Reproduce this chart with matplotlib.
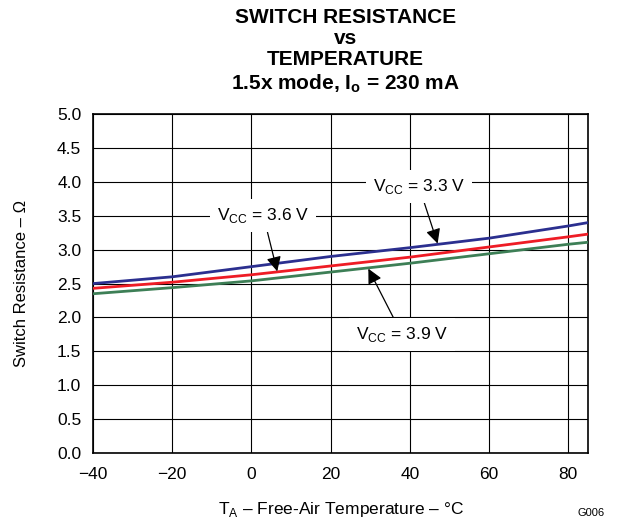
import matplotlib.pyplot as plt

plt.rcParams['font.family'] = ['Liberation Sans', 'DejaVu Sans']
plt.rcParams['mathtext.fontset'] = 'custom'
plt.rcParams['mathtext.rm'] = 'Liberation Sans'
plt.rcParams['mathtext.bf'] = 'Liberation Sans:bold'

# 温度 (°C)
temp = [-40, -20, 0, 20, 40, 60, 80, 85]
# 开关电阻 (Ω)
r_33 = [2.50, 2.60, 2.75, 2.90, 3.03, 3.17, 3.35, 3.40]
r_36 = [2.43, 2.52, 2.63, 2.76, 2.89, 3.04, 3.19, 3.23]
r_39 = [2.35, 2.44, 2.54, 2.67, 2.80, 2.94, 3.08, 3.11]

fig = plt.figure(figsize=(6.29, 5.27), dpi=100)
ax = fig.add_axes([0.148, 0.1404, 0.787, 0.643])

ax.plot(temp, r_33, color='#2b2f8f', lw=2.0, zorder=3)
ax.plot(temp, r_36, color='#ee1c25', lw=2.0, zorder=3)
ax.plot(temp, r_39, color='#3d7f56', lw=2.0, zorder=3)

ax.set_xlim(-40, 85)
ax.set_ylim(0, 5)
ax.set_xticks([-40, -20, 0, 20, 40, 60, 80])
ax.set_yticks([i * 0.5 for i in range(11)])
ax.set_yticklabels([f'{i * 0.5:.1f}' for i in range(11)])
ax.tick_params(length=0, labelsize=12.5)
ax.tick_params(axis='x', pad=10)
ax.tick_params(axis='y', pad=8.5)
ax.grid(True, color='black', lw=0.8)
for s in ax.spines.values():
    s.set_linewidth(1.2)

ax.set_ylabel('Switch Resistance – Ω', fontsize=12, labelpad=20)
ax.set_xlabel(r'T$_\mathregular{A}$ – Free-Air Temperature – °C', fontsize=12.5, labelpad=13)

fig.text(0.549, 0.985, 'SWITCH RESISTANCE\nvs\nTEMPERATURE\n' + r'1.5x mode, I$_\mathbf{o}$ = 230 mA',
         ha='center', va='top', fontsize=15, fontweight='bold', linespacing=1.15)
fig.text(0.962, 0.017, 'G006', fontsize=8, ha='right', va='bottom')

arrow = dict(arrowstyle='-|>', color='black', lw=0.9, mutation_scale=22, shrinkA=0, shrinkB=0)
box = dict(facecolor='white', edgecolor='none', pad=5)
ax.annotate(r'V$_\mathregular{CC}$ = 3.3 V', xy=(47, 3.09), xytext=(42.3, 3.93),
            ha='center', va='center', fontsize=12.5, bbox=box, arrowprops=arrow, zorder=4)
ax.annotate(r'V$_\mathregular{CC}$ = 3.6 V', xy=(6.5, 2.68), xytext=(3, 3.5),
            ha='center', va='center', fontsize=12.5, bbox=box, arrowprops=arrow, zorder=4)
ax.annotate(r'V$_\mathregular{CC}$ = 3.9 V', xy=(29.5, 2.72), xytext=(38, 1.75),
            ha='center', va='center', fontsize=12.5, bbox=box, arrowprops=arrow, zorder=4)

fig.savefig('out.png', dpi=100)
